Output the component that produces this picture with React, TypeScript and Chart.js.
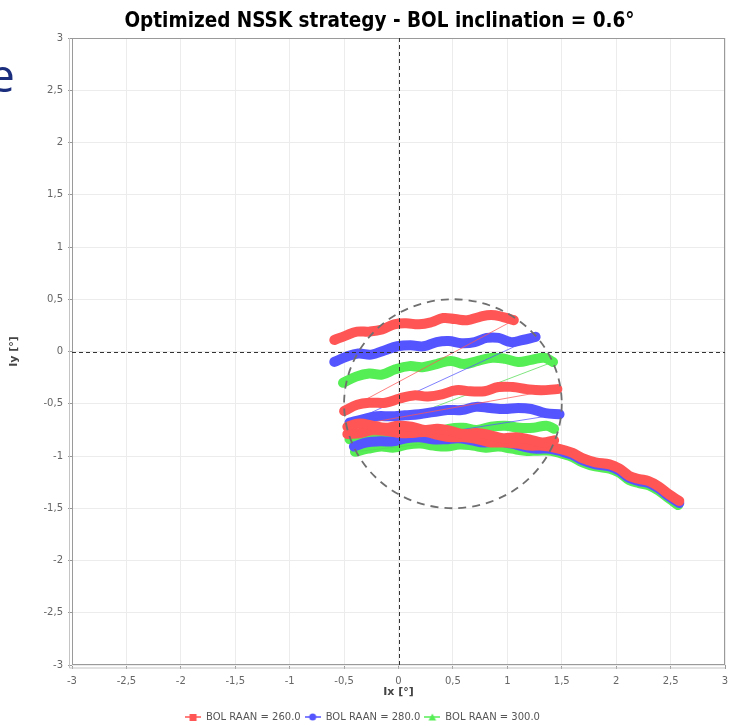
import React, { useEffect, useRef } from "react";
import { Chart, registerables } from "chart.js";
Chart.register(...registerables);

type Pt = [number, number];

const TITLE = "Optimized NSSK strategy - BOL inclination = 0.6°";
const X_LABEL = "Ix [°]";
const Y_LABEL = "Iy [°]";
const AXIS_MIN = -3;
const AXIS_MAX = 3;
const TICK_STEP = 0.5;
const SERIES_NAMES = ["BOL RAAN = 260.0", "BOL RAAN = 280.0", "BOL RAAN = 300.0"];
const SERIES_COLORS = ["#ff5555", "#5555ff", "#55ee55"];
const CONNECTOR_COLORS = ["rgba(255,85,85,0.75)", "rgba(85,85,255,0.75)", "rgba(85,220,85,0.75)"];
const CIRCLE_CENTER: Pt = [0.5, -0.5];
const CIRCLE_RADIUS = 1;

// BOL RAAN = 260.0
const RED_BAND_1: Pt[] = [
  [-0.59, 0.11], [-0.49, 0.15], [-0.38, 0.19], [-0.27, 0.19], [-0.15, 0.21], [-0.04, 0.26],
  [0.07, 0.27], [0.19, 0.26], [0.30, 0.28], [0.41, 0.32], [0.52, 0.31], [0.63, 0.30],
  [0.74, 0.33], [0.85, 0.35], [0.96, 0.33], [1.06, 0.30],
];
const RED_BAND_2: Pt[] = [
  [-0.50, -0.57], [-0.38, -0.51], [-0.25, -0.49], [-0.12, -0.49], [0.01, -0.45], [0.14, -0.42],
  [0.27, -0.43], [0.40, -0.41], [0.53, -0.37], [0.66, -0.38], [0.79, -0.38], [0.92, -0.34],
  [1.05, -0.34], [1.18, -0.36], [1.31, -0.37], [1.46, -0.36],
];
const RED_BAND_3: Pt[] = [
  [-0.47, -0.72], [-0.36, -0.69], [-0.24, -0.71], [-0.12, -0.73], [0.00, -0.71], [0.12, -0.72],
  [0.24, -0.75], [0.36, -0.74], [0.48, -0.76], [0.60, -0.79], [0.72, -0.78], [0.84, -0.80],
  [0.96, -0.83], [1.08, -0.82], [1.20, -0.84], [1.32, -0.87], [1.43, -0.85],
];
const RED_BAND_4: Pt[] = [
  [-0.47, -0.79], [-0.35, -0.78], [-0.23, -0.75], [-0.11, -0.76], [0.01, -0.78], [0.13, -0.78],
  [0.25, -0.77], [0.37, -0.80], [0.49, -0.82], [0.61, -0.82], [0.73, -0.84], [0.85, -0.87],
  [0.97, -0.87], [1.09, -0.88], [1.21, -0.90], [1.30, -0.90], [1.39, -0.91], [1.51, -0.94],
  [1.60, -0.97], [1.69, -1.02], [1.81, -1.06], [1.94, -1.08], [2.03, -1.12], [2.12, -1.19],
  [2.21, -1.22], [2.30, -1.24], [2.39, -1.29], [2.49, -1.37], [2.58, -1.43],
];

// BOL RAAN = 280.0
const BLUE_BAND_1: Pt[] = [
  [-0.59, -0.10], [-0.48, -0.05], [-0.37, -0.02], [-0.25, -0.03], [-0.13, 0.01], [-0.01, 0.05],
  [0.11, 0.06], [0.23, 0.05], [0.35, 0.09], [0.46, 0.10], [0.58, 0.08], [0.70, 0.09],
  [0.81, 0.13], [0.92, 0.13], [1.03, 0.09], [1.14, 0.11], [1.26, 0.14],
];
const BLUE_BAND_2: Pt[] = [
  [-0.45, -0.68], [-0.33, -0.65], [-0.20, -0.62], [-0.07, -0.62], [0.06, -0.61], [0.19, -0.60],
  [0.32, -0.58], [0.45, -0.56], [0.58, -0.56], [0.71, -0.53], [0.84, -0.54], [0.97, -0.55],
  [1.10, -0.54], [1.22, -0.55], [1.35, -0.59], [1.48, -0.60],
];
const BLUE_BAND_3: Pt[] = [
  [-0.41, -0.91], [-0.29, -0.87], [-0.17, -0.86], [-0.05, -0.86], [0.07, -0.83], [0.19, -0.82],
  [0.31, -0.84], [0.43, -0.84], [0.55, -0.83], [0.67, -0.85], [0.79, -0.87], [0.91, -0.86],
  [1.03, -0.88], [1.15, -0.91], [1.27, -0.93], [1.39, -0.93], [1.51, -0.96], [1.60, -0.99],
  [1.69, -1.04], [1.81, -1.08], [1.94, -1.10], [2.03, -1.14], [2.12, -1.21], [2.21, -1.24],
  [2.30, -1.26], [2.39, -1.31], [2.49, -1.39], [2.58, -1.45],
];

// BOL RAAN = 300.0
const GREEN_BAND_1: Pt[] = [
  [-0.51, -0.30], [-0.39, -0.24], [-0.27, -0.21], [-0.15, -0.22], [-0.03, -0.17], [0.10, -0.14],
  [0.22, -0.15], [0.35, -0.12], [0.48, -0.09], [0.60, -0.12], [0.73, -0.09], [0.86, -0.06],
  [0.98, -0.07], [1.10, -0.10], [1.22, -0.08], [1.34, -0.06], [1.42, -0.10],
];
const GREEN_BAND_2: Pt[] = [
  [-0.45, -0.84], [-0.32, -0.81], [-0.19, -0.82], [-0.06, -0.80], [0.07, -0.77], [0.20, -0.78],
  [0.33, -0.78], [0.46, -0.74], [0.59, -0.73], [0.72, -0.75], [0.85, -0.72], [0.98, -0.71],
  [1.11, -0.73], [1.24, -0.73], [1.36, -0.71], [1.43, -0.74],
];
const GREEN_BAND_3: Pt[] = [
  [-0.40, -0.96], [-0.28, -0.93], [-0.16, -0.91], [-0.04, -0.92], [0.08, -0.89], [0.20, -0.88],
  [0.32, -0.90], [0.44, -0.91], [0.56, -0.89], [0.68, -0.90], [0.80, -0.92], [0.92, -0.91],
  [1.04, -0.93], [1.16, -0.95], [1.28, -0.95], [1.40, -0.95], [1.51, -0.98], [1.60, -1.01],
  [1.69, -1.06], [1.81, -1.10], [1.94, -1.12], [2.03, -1.16], [2.12, -1.23], [2.21, -1.26],
  [2.30, -1.28], [2.39, -1.33], [2.49, -1.41], [2.57, -1.47],
];

const SERIES_BANDS: Pt[][][] = [
  [RED_BAND_1, RED_BAND_2, RED_BAND_3, RED_BAND_4],
  [BLUE_BAND_1, BLUE_BAND_2, BLUE_BAND_3],
  [GREEN_BAND_1, GREEN_BAND_2, GREEN_BAND_3],
];
const MARKER_SHAPES = ["square", "circle", "triangle"];

const FONT = '"DejaVu Sans", sans-serif';

function makeMarker(color: string, shape: string): HTMLCanvasElement {
  const c = document.createElement("canvas");
  c.width = 16;
  c.height = 10;
  const g = c.getContext("2d")!;
  g.strokeStyle = color;
  g.fillStyle = color;
  g.lineWidth = 1.5;
  g.beginPath();
  g.moveTo(0, 5);
  g.lineTo(16, 5);
  g.stroke();
  g.beginPath();
  if (shape === "square") {
    g.rect(4.5, 2, 7, 7);
  } else if (shape === "circle") {
    g.arc(8, 5, 3.5, 0, Math.PI * 2);
  } else {
    g.moveTo(8, 1.5);
    g.lineTo(11.8, 8.5);
    g.lineTo(4.2, 8.5);
    g.closePath();
  }
  g.fill();
  return c;
}

const overlayPlugin = {
  id: "overlay",
  afterLayout(chart: any) {
    const lg = chart.legend;
    if (lg) {
      lg.top += 6;
      lg.bottom += 6;
    }
    const tb = chart.titleBlock;
    if (tb) {
      tb.left += 17;
      tb.right += 17;
    }
  },
  beforeDatasetsDraw(chart: any) {
    const { ctx, chartArea } = chart;
    ctx.save();
    ctx.strokeStyle = "#9a9a9a";
    ctx.lineWidth = 1;
    ctx.strokeRect(chartArea.left + 0.5, chartArea.top + 0.5, chartArea.width - 1, chartArea.height - 1);
    ctx.strokeStyle = "#c4c4c4";
    ctx.beginPath();
    ctx.moveTo(chartArea.left - 2.5, chartArea.top);
    ctx.lineTo(chartArea.left - 2.5, chartArea.bottom + 3);
    ctx.lineTo(chartArea.right, chartArea.bottom + 3);
    ctx.stroke();
    ctx.restore();
  },
  afterDatasetsDraw(chart: any) {
    const { ctx, chartArea, scales } = chart;
    const xs = scales.x;
    const ys = scales.y;
    ctx.save();
    ctx.beginPath();
    ctx.rect(chartArea.left, chartArea.top, chartArea.width, chartArea.height);
    ctx.clip();
    // zero reference lines
    const x0 = xs.getPixelForValue(0);
    const y0 = ys.getPixelForValue(0);
    ctx.strokeStyle = "#333";
    ctx.lineWidth = 1;
    ctx.setLineDash([4, 3]);
    ctx.beginPath();
    ctx.moveTo(Math.round(x0) + 0.5, chartArea.top);
    ctx.lineTo(Math.round(x0) + 0.5, chartArea.bottom);
    ctx.moveTo(chartArea.left, Math.round(y0) + 0.5);
    ctx.lineTo(chartArea.right, Math.round(y0) + 0.5);
    ctx.stroke();
    // dead-band circle
    const cx = xs.getPixelForValue(CIRCLE_CENTER[0]);
    const cy = ys.getPixelForValue(CIRCLE_CENTER[1]);
    const rx = Math.abs(xs.getPixelForValue(CIRCLE_CENTER[0] + CIRCLE_RADIUS) - cx);
    const ry = Math.abs(ys.getPixelForValue(CIRCLE_CENTER[1] + CIRCLE_RADIUS) - cy);
    ctx.strokeStyle = "#6f6f6f";
    ctx.lineWidth = 1.8;
    ctx.setLineDash([8, 6]);
    ctx.beginPath();
    ctx.ellipse(cx, cy, rx, ry, 0, 0, Math.PI * 2);
    ctx.stroke();
    ctx.restore();
  },
};

export default function App() {
  const canvasRef = useRef<HTMLCanvasElement | null>(null);

  useEffect(() => {
    if (!canvasRef.current) return;
    const datasets: any[] = [];
    const legendMarkers = SERIES_COLORS.map((c, i) => makeMarker(c, MARKER_SHAPES[i]));

    SERIES_BANDS.forEach((bands, s) => {
      bands.forEach((band, b) => {
        datasets.push({
          label: b === 0 ? SERIES_NAMES[s] : "",
          data: band.map(([x, y]) => ({ x, y })),
          borderColor: SERIES_COLORS[s],
          backgroundColor: SERIES_COLORS[s],
          borderWidth: 10,
          borderCapStyle: "round",
          borderJoinStyle: "round",
          pointRadius: 0,
          tension: 0.4,
          showLine: true,
        });
        if (b < bands.length - 1) {
          const a = band[band.length - 1];
          const n = bands[b + 1][0];
          datasets.push({
            label: "",
            data: [
              { x: a[0], y: a[1] },
              { x: n[0], y: n[1] },
            ],
            borderColor: CONNECTOR_COLORS[s],
            borderWidth: 1,
            pointRadius: 0,
            showLine: true,
            tension: 0,
          });
        }
      });
    });

    const tickFmt = (v: any) => String(v).replace(".", ",");

    const chart = new Chart(canvasRef.current, {
      type: "scatter",
      data: { datasets },
      plugins: [overlayPlugin],
      options: {
        animation: false,
        responsive: false,
        maintainAspectRatio: false,
        layout: { padding: { left: 0, right: 13, top: 0, bottom: 0 } },
        plugins: {
          tooltip: { enabled: false },
          title: {
            display: true,
            text: TITLE,
            color: "#000",
            font: { family: '"DejaVu Sans Condensed", "DejaVu Sans", sans-serif', size: 20.5, weight: "bold" },
            padding: { top: 9.5, bottom: 3.9 },
          },
          legend: {
            display: true,
            position: "bottom",
            labels: {
              usePointStyle: true,
              pointStyleWidth: 16,
              padding: 4,
              color: "#555",
              font: { family: FONT, size: 10 },
              generateLabels: () =>
                SERIES_NAMES.map((name, i) => ({
                  text: name,
                  fillStyle: SERIES_COLORS[i],
                  strokeStyle: SERIES_COLORS[i],
                  lineWidth: 0,
                  hidden: false,
                  pointStyle: legendMarkers[i],
                  fontColor: "#555",
                  datasetIndex: i,
                })),
            },
          },
        },
        scales: {
          x: {
            type: "linear",
            min: AXIS_MIN,
            max: AXIS_MAX,
            afterFit: (scale: any) => {
              scale.height = 37;
            },
            ticks: {
              stepSize: TICK_STEP,
              color: "#666",
              font: { family: FONT, size: 10 },
              padding: 6,
              callback: tickFmt,
              maxRotation: 0,
            },
            grid: { color: "#ececec", tickLength: 4, tickColor: "#999", drawTicks: true },
            border: { display: false },
            title: {
              display: true,
              text: X_LABEL,
              color: "#444",
              font: { family: FONT, size: 11, weight: "bold" },
              padding: { top: 0, bottom: 3 },
            },
          },
          y: {
            type: "linear",
            min: AXIS_MIN,
            max: AXIS_MAX,
            afterFit: (scale: any) => {
              scale.width = 72;
            },
            ticks: {
              stepSize: TICK_STEP,
              color: "#666",
              font: { family: FONT, size: 10 },
              padding: 5,
              callback: tickFmt,
            },
            grid: { color: "#ececec", tickLength: 4, tickColor: "#999", drawTicks: true },
            border: { display: false },
            title: {
              display: true,
              text: Y_LABEL,
              color: "#444",
              font: { family: FONT, size: 11, weight: "bold" },
              padding: { top: 8, bottom: 0 },
            },
          },
        },
      } as any,
    });
    return () => chart.destroy();
  }, []);

  return (
    <div style={{ position: "absolute", left: 0, top: 0, width: 738, height: 726, background: "#fff", overflow: "hidden" }}>
      <canvas ref={canvasRef} width={738} height={726} style={{ display: "block", width: 738, height: 726 }} />
      <span
        style={{
          position: "absolute",
          left: -11,
          top: 44,
          fontFamily: '"Open Sans", sans-serif',
          fontSize: 46,
          lineHeight: "60px",
          color: "#1b2d7d",
        }}
      >
        e
      </span>
    </div>
  );
}
